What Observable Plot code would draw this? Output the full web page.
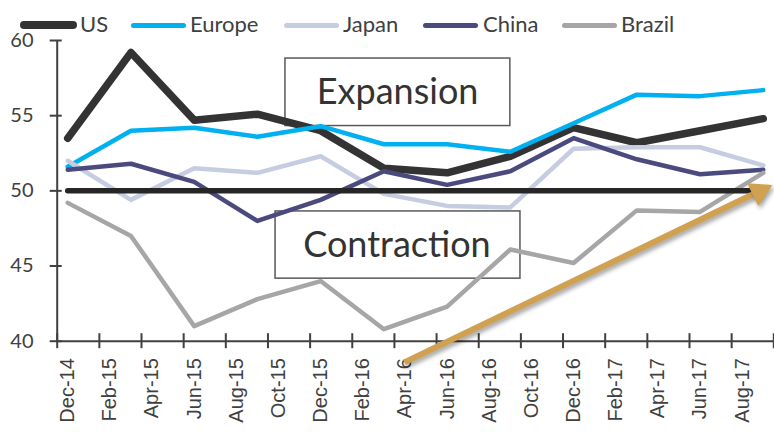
<!DOCTYPE html>
<html><head><meta charset="utf-8">
<script src="https://cdn.jsdelivr.net/npm/d3@7"></script>
<script src="https://cdn.jsdelivr.net/npm/@observablehq/plot@0.6"></script>
<style>
body{margin:0;background:#fff;}
#wrap{position:relative;width:774px;height:433px;}
#legend{position:absolute;left:0;top:0;width:774px;height:40px;font-family:Lato,sans-serif;font-size:22px;color:#404040;pointer-events:none;}
#legend .sw{position:absolute;top:25px;border-radius:5px;}
#legend .lb{position:absolute;top:11px;line-height:26px;}
#chart{position:absolute;left:0;top:0;}
svg text.xlab{font-family:"Liberation Sans",Arial,sans-serif !important;}
</style></head>
<body><div id="wrap"><div id="chart"></div><div id="legend"></div></div>
<script>
// ---- data ----
const dates  = ["Dec-14","Mar-15","Jun-15","Sep-15","Dec-15","Mar-16","Jun-16","Sep-16","Dec-16","Mar-17","Jun-17","Sep-17"];
const us     = [53.5, 59.2, 54.7, 55.1, 54.0, 51.5, 51.2, 52.3, 54.2, 53.2, 54.0, 54.8];
const europe = [51.6, 54.0, 54.2, 53.6, 54.3, 53.1, 53.1, 52.6, 54.5, 56.4, 56.3, 56.7];
const japan  = [52.0, 49.4, 51.5, 51.2, 52.3, 49.8, 49.0, 48.9, 52.8, 52.9, 52.9, 51.7];
const china  = [51.4, 51.8, 50.6, 48.0, 49.4, 51.3, 50.4, 51.3, 53.5, 52.1, 51.1, 51.4];
const brazil = [49.2, 47.0, 41.0, 42.8, 44.0, 40.8, 42.3, 46.1, 45.2, 48.7, 48.6, 51.2];
const threshold = 50;
const seriesNames = ["US","Europe","Japan","China","Brazil"];
const tickLabels = ["Dec-14","Feb-15","Apr-15","Jun-15","Aug-15","Oct-15","Dec-15","Feb-16","Apr-16","Jun-16","Aug-16","Oct-16","Dec-16","Feb-17","Apr-17","Jun-17","Aug-17"];
const axisEnd = "Sep-17";
const yTicks = [40, 45, 50, 55, 60];
const boxLabels = ["Expansion", "Contraction"];

// ---- helpers ----
const parse = d3.utcParse("%b-%y");
const t0 = parse(dates[0]);
const mi = s => d3.utcMonth.count(t0, parse(s));
const colors = {US:"#333333", Europe:"#00B0F0", Japan:"#C6CDE0", China:"#4A4A7E", Brazil:"#A6A6A6"};
const widths = {US:7.5, Europe:4.5, Japan:4.5, China:4.5, Brazil:4.5};
const values = {US:us, Europe:europe, Japan:japan, China:china, Brazil:brazil};
const rowsFor = name => dates.map((d,i) => ({m: mi(d), v: values[name][i], date: d}));
const lastM = mi(axisEnd);
const boundaries = d3.range(-0.5, lastM + 0.6, 2);
const labelIdx = tickLabels.map(mi);
const labelOf = new Map(tickLabels.map(s => [mi(s), s]));

const boxes = [
  {label: boxLabels[0], x1: 10.33, x2: 21.0, y1: 54.31, y2: 58.8, tx: 15.65, ty: 56.55},
  {label: boxLabels[1], x1: 9.86, x2: 21.48, y1: 44.16, y2: 48.63, tx: 15.62, ty: 46.35}
];
const arrowLine = [{x1: 15.97, y1: 38.59, x2: 32.81, y2: 49.97}];
const arrowHead = [{x: 32.81, y: 49.97}];
const thresholdRows = dates.map(d => ({m: mi(d), v: threshold}));

const axisColor = "#404040";
const marks = [
  Plot.rect(boxes, {x1:"x1", x2:"x2", y1:"y1", y2:"y2", fill:"white", stroke:"#595959", strokeWidth:1.5}),
  Plot.text(boxes, {x:"tx", y:"ty", text:"label", fontSize:36, fill:"#333333", fontFamily:"Lato"}),
  Plot.axisY({ticks: yTicks, tickSize: 12, dx: 5, tickPadding: 16.7, fontSize: 20, fontFamily:"Lato", color: axisColor, strokeWidth: 2}),
  Plot.ruleX([-0.5], {stroke: axisColor, strokeWidth: 2}),
  Plot.ruleY([40], {stroke: axisColor, strokeWidth: 2}),
  Plot.axisX({ticks: boundaries, tickSize: 15, dy: -7.5, tickFormat: () => "", color: axisColor, strokeWidth: 2}),
  Plot.axisX({ticks: labelIdx, tickSize: 0, tickRotate: -90, tickPadding: 17, tickFormat: m => labelOf.get(m), fontSize: 20, color: axisColor}),
];
for (const name of seriesNames) {
  marks.push(Plot.line(rowsFor(name), {x:"m", y:"v", stroke: colors[name], strokeWidth: widths[name], strokeLinecap:"round", strokeLinejoin:"round"}));
}
marks.push(Plot.line(thresholdRows, {x:"m", y:"v", stroke:"#262626", strokeWidth:5.5, strokeLinecap:"round"}));
marks.push(Plot.link(arrowLine, {x1:"x1", y1:"y1", x2:"x2", y2:"y2", stroke:"#D1A152", strokeWidth:6, strokeLinecap:"butt"}));
marks.push(Plot.dot(arrowHead, {x:"x", y:"y", symbol:"triangle", r:9.4, rotate:64, fill:"#D1A152", stroke:"none"}));

const chart = Plot.plot({
  width: 774, height: 433,
  marginTop: 40, marginBottom: 92.3, marginLeft: 56.7, marginRight: 0.7,
  x: {domain: [-0.5, lastM + 0.5], axis: null},
  y: {domain: [40, 60], axis: null},
  style: {background: "transparent", overflow: "visible", fontFamily: "Lato"},
  marks
});
const labelSet = new Set(tickLabels);
chart.querySelectorAll("text").forEach(t => {
  if (labelSet.has(t.textContent.trim())) {
    t.classList.add("xlab");
    t.setAttribute("font-family", "Liberation Sans");
    t.style.setProperty("font-family", "'Liberation Sans', Arial, sans-serif", "important");
  }
});
chart.querySelectorAll('g[aria-label="link"], g[aria-label="dot"]').forEach(g => {
  g.style.filter = "drop-shadow(2px 3px 2px rgba(0,0,0,0.35))";
});
document.getElementById("chart").appendChild(chart);

// ---- legend ----
const legendPos = {US:[20,57,80], Europe:[131,55,190], Japan:[284,55,343], China:[423,55,483], Brazil:[562,55,621]};
const legend = document.getElementById("legend");
for (const name of seriesNames) {
  const [lx, lw, tx] = legendPos[name];
  const h = name === "US" ? 8 : 5;
  const sw = document.createElement("div");
  sw.className = "sw";
  sw.style.cssText = `left:${lx}px;width:${lw}px;height:${h}px;margin-top:${-h/2}px;background:${colors[name]};`;
  legend.appendChild(sw);
  const lb = document.createElement("div");
  lb.className = "lb";
  lb.style.left = tx + "px";
  lb.textContent = name;
  legend.appendChild(lb);
}
</script>
</body></html>
